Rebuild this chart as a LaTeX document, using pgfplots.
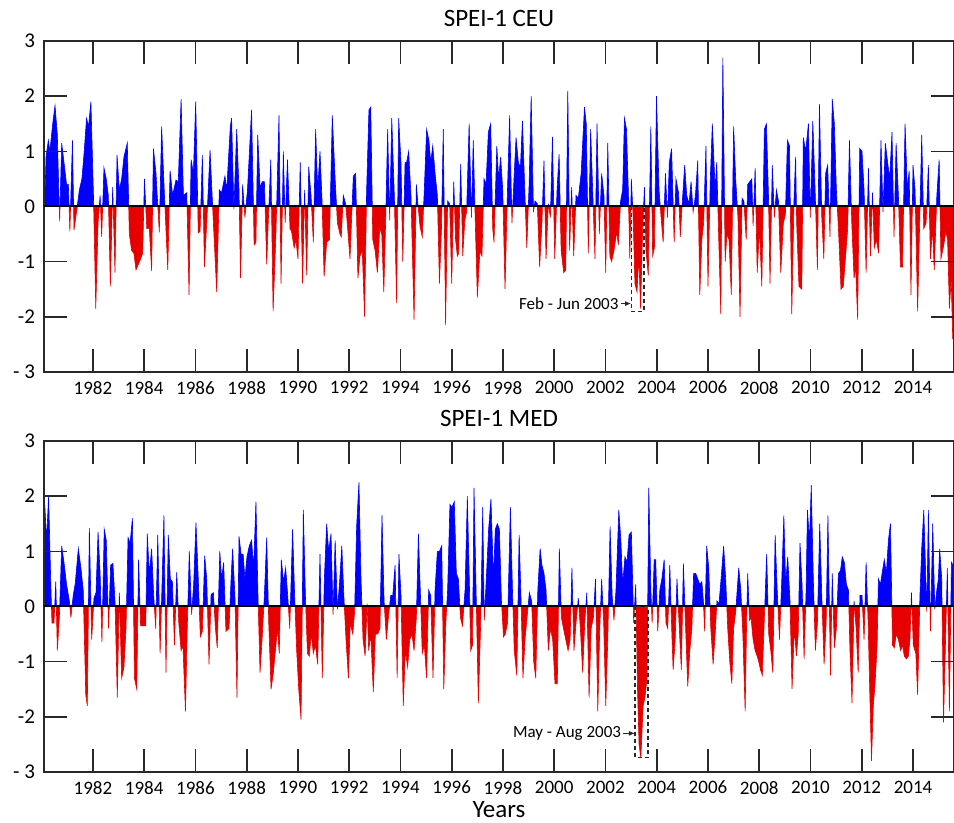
\documentclass[border=0pt]{standalone}
\usepackage{fontspec}
\setmainfont{Carlito}
\usepackage{pgfplots}
\pgfplotsset{compat=1.18}
\usetikzlibrary{arrows.meta}

\definecolor{posblue}{RGB}{0,0,255}
\definecolor{negred}{RGB}{230,0,0}
\definecolor{framegray}{RGB}{40,40,40}

% SPEI-1 CEU, monthly values
\newcommand{\ceucurve}[1]{\addplot[#1] coordinates {
(1980.09,0) (1980.09,-0.45) (1980.17,0.9) (1980.26,1.2) (1980.32,1.0) (1980.43,1.5) (1980.52,1.83) (1980.61,1.3) (1980.66,0.4)
(1980.70,-0.27) (1980.78,1.15) (1980.87,0.8) (1980.97,0.4) (1981.04,0.4) (1981.10,-0.45) (1981.20,1.2) (1981.26,-0.43)
(1981.36,-0.1) (1981.47,0.3) (1981.57,0.5) (1981.66,1.0) (1981.75,1.6) (1981.83,1.45) (1981.92,1.9) (1982.02,0.2)
(1982.11,-1.85) (1982.20,-0.3) (1982.28,0.2) (1982.34,-0.55) (1982.43,0.7) (1982.52,0.5) (1982.60,0.2) (1982.68,-1.45)
(1982.77,0.35) (1982.86,-1.2) (1982.94,0.93) (1983.03,0.3) (1983.12,0.5) (1983.21,0.9) (1983.34,1.15) (1983.42,-0.5)
(1983.51,-0.8) (1983.60,-0.85) (1983.68,-1.15) (1983.77,-1.05) (1983.86,-0.95) (1983.94,-0.85) (1984.01,0.5) (1984.10,-0.4)
(1984.20,-0.4) (1984.29,-1.17) (1984.36,1.05) (1984.46,0.6) (1984.59,-0.47) (1984.68,1.45) (1984.79,0.2) (1984.92,-1.15)
(1985.01,0.65) (1985.11,0.2) (1985.24,0.48) (1985.33,0.45) (1985.44,1.95) (1985.53,0.2) (1985.66,0.25) (1985.75,-1.6)
(1985.83,0.85) (1985.92,0.6) (1986.01,1.9) (1986.11,-0.48) (1986.18,-0.45) (1986.27,0.93) (1986.35,-1.1) (1986.44,-0.3)
(1986.57,1.02) (1986.70,-0.3) (1986.83,-1.55) (1986.93,0.3) (1987.02,0.25) (1987.15,0.55) (1987.22,0.3) (1987.36,1.45)
(1987.41,1.6) (1987.50,-0.05) (1987.61,1.4) (1987.70,0.3) (1987.76,-1.3) (1987.84,0.4) (1987.93,-0.2) (1988.03,0.3)
(1988.19,1.75) (1988.29,-0.7) (1988.36,-0.65) (1988.43,1.3) (1988.52,0.35) (1988.61,0.45) (1988.69,0.45) (1988.78,-1.05)
(1988.84,-0.3) (1988.94,0.85) (1989.03,-1.9) (1989.14,-0.5) (1989.26,1.65) (1989.34,-1.4) (1989.43,1.0) (1989.50,-0.3)
(1989.59,0.85) (1989.69,-0.4) (1989.75,-0.45) (1989.85,-0.75) (1989.92,-0.6) (1990.00,-0.95) (1990.09,0.8) (1990.18,-1.4)
(1990.26,0.3) (1990.34,-1.25) (1990.42,0.72) (1990.51,0.2) (1990.60,-0.65) (1990.69,1.4) (1990.77,0.3) (1990.86,1.0)
(1990.94,0.1) (1991.02,-1.27) (1991.12,-0.65) (1991.23,-0.6) (1991.34,1.65) (1991.45,0.5) (1991.54,-0.3) (1991.64,-0.5)
(1991.69,-0.55) (1991.77,0.2) (1991.86,0.05) (1991.94,-0.4) (1992.03,-0.95) (1992.16,0.55) (1992.25,0.6) (1992.34,-1.3)
(1992.42,-0.9) (1992.51,-0.8) (1992.60,-2.0) (1992.68,0.3) (1992.77,1.75) (1992.84,1.8) (1992.92,-0.6) (1993.01,-0.8)
(1993.10,-1.2) (1993.19,-0.4) (1993.27,-0.5) (1993.35,-1.55) (1993.42,-0.3) (1993.50,1.4) (1993.58,-0.25) (1993.66,1.6)
(1993.76,0.2) (1993.85,-1.75) (1993.93,1.6) (1994.02,0.8) (1994.09,-1.0) (1994.18,0.8) (1994.24,0.8) (1994.32,1.0)
(1994.41,0.2) (1994.53,-2.05) (1994.62,0.4) (1994.67,0.1) (1994.76,-0.35) (1994.85,-0.55) (1994.93,0.3) (1995.02,1.4)
(1995.11,1.2) (1995.18,0.8) (1995.26,1.1) (1995.35,0.6) (1995.44,0.2) (1995.52,-1.4) (1995.60,-0.4) (1995.67,1.4)
(1995.76,-2.15) (1995.84,0.1) (1995.92,0.05) (1996.00,-1.4) (1996.08,0.45) (1996.15,-0.6) (1996.22,-0.9) (1996.27,-0.85)
(1996.35,0.77) (1996.43,-0.9) (1996.51,-0.25) (1996.58,-0.1) (1996.68,1.5) (1996.77,-0.2) (1996.84,1.2) (1996.92,-0.3)
(1997.00,-1.65) (1997.10,-0.8) (1997.18,-0.9) (1997.26,0.5) (1997.34,0.4) (1997.43,1.35) (1997.52,1.5) (1997.60,-0.4)
(1997.65,-0.65) (1997.76,1.1) (1997.83,0.5) (1997.91,0.9) (1997.99,0.3) (1998.08,-1.5) (1998.17,0.2) (1998.26,1.65)
(1998.35,-0.3) (1998.43,0.5) (1998.51,1.25) (1998.60,0.8) (1998.68,0.7) (1998.76,1.55) (1998.85,0.3) (1998.93,-0.75)
(1999.02,0.4) (1999.10,2.0) (1999.19,-0.1) (1999.25,0.1) (1999.34,0.05) (1999.43,-1.1) (1999.52,-0.3) (1999.60,0.83)
(1999.68,-0.95) (1999.77,0.05) (1999.85,-0.2) (1999.93,1.26) (2000.02,-0.95) (2000.11,0.3) (2000.19,0.95) (2000.27,-0.8)
(2000.37,-1.2) (2000.45,-1.15) (2000.53,2.1) (2000.60,-0.8) (2000.68,0.35) (2000.76,-0.9) (2000.85,0.2) (2000.94,0.15)
(2001.05,0.6) (2001.18,1.8) (2001.25,1.5) (2001.33,-0.85) (2001.42,1.4) (2001.50,0.3) (2001.59,-0.95) (2001.67,1.5)
(2001.76,-0.5) (2001.85,0.6) (2001.94,0.2) (2002.01,-1.2) (2002.09,1.15) (2002.17,-0.9) (2002.24,-1.0) (2002.33,-0.8)
(2002.44,-0.45) (2002.50,-0.7) (2002.59,0.1) (2002.67,0.3) (2002.74,1.6) (2002.82,1.4) (2002.89,0.3) (2002.95,-0.95)
(2003.01,0.5) (2003.08,-0.2) (2003.15,-1.4) (2003.23,-1.55) (2003.30,-0.9) (2003.37,-1.85) (2003.45,-0.4) (2003.52,0.35)
(2003.58,-0.8) (2003.67,-1.25) (2003.77,1.45) (2003.84,-0.9) (2003.91,-0.75) (2003.99,2.0) (2004.09,0.3) (2004.17,-0.2)
(2004.25,-0.65) (2004.34,0.6) (2004.42,-0.2) (2004.49,0.8) (2004.58,1.05) (2004.68,-0.65) (2004.75,0.5) (2004.85,0.25)
(2004.92,-0.55) (2005.00,0.1) (2005.09,0.75) (2005.17,0.2) (2005.26,0.05) (2005.34,0.45) (2005.42,-0.1) (2005.51,0.2)
(2005.60,0.83) (2005.68,-1.6) (2005.76,-0.6) (2005.83,-0.3) (2005.92,1.1) (2006.00,-1.45) (2006.09,0.5) (2006.17,1.5)
(2006.28,0.3) (2006.34,0.8) (2006.42,-0.6) (2006.50,-1.95) (2006.58,2.7) (2006.67,-1.0) (2006.74,-0.5) (2006.82,-0.6)
(2006.91,-1.6) (2007.00,1.45) (2007.08,0.5) (2007.17,-0.2) (2007.25,-2.0) (2007.33,0.15) (2007.40,0.1) (2007.49,-0.6)
(2007.55,0.4) (2007.63,0.45) (2007.71,0.5) (2007.76,-0.35) (2007.84,0.7) (2007.92,-1.2) (2008.01,-0.4) (2008.10,-1.45)
(2008.20,1.4) (2008.28,1.5) (2008.36,0.2) (2008.42,-1.4) (2008.51,0.75) (2008.59,-0.2) (2008.67,0.3) (2008.75,0.1)
(2008.84,-1.2) (2008.94,-0.3) (2009.02,-0.15) (2009.10,1.2) (2009.18,1.1) (2009.27,-1.95) (2009.36,0.2) (2009.42,0.9)
(2009.46,-0.3) (2009.55,-1.45) (2009.66,-1.5) (2009.72,1.25) (2009.81,1.0) (2009.92,1.5) (2009.99,-0.2) (2010.09,1.55)
(2010.18,0.3) (2010.27,-1.15) (2010.35,1.85) (2010.44,-0.2) (2010.52,-0.95) (2010.59,0.6) (2010.67,0.75) (2010.76,-0.55)
(2010.85,1.95) (2010.93,1.5) (2011.01,0.3) (2011.09,-0.4) (2011.19,-1.5) (2011.28,-1.45) (2011.37,-0.9) (2011.45,-0.4)
(2011.52,1.2) (2011.61,-0.3) (2011.70,-1.3) (2011.76,-1.1) (2011.84,-2.05) (2011.92,1.05) (2012.01,1.0) (2012.09,0.3)
(2012.17,-1.2) (2012.26,0.7) (2012.34,-0.9) (2012.42,0.25) (2012.49,-0.75) (2012.57,-0.6) (2012.66,-0.85) (2012.75,1.2)
(2012.83,-0.1) (2012.92,1.15) (2013.01,0.8) (2013.09,0.5) (2013.18,1.35) (2013.26,-0.55) (2013.34,1.15) (2013.43,0.2)
(2013.51,-1.1) (2013.59,-1.1) (2013.69,1.5) (2013.78,0.3) (2013.85,0.65) (2013.92,-1.6) (2014.00,0.75) (2014.08,0.3)
(2014.18,-1.9) (2014.26,-0.3) (2014.34,1.3) (2014.42,-0.4) (2014.51,-0.3) (2014.60,0.75) (2014.68,-0.95) (2014.76,-0.4)
(2014.83,-1.15) (2014.93,0.2) (2015.02,0.85) (2015.09,-0.95) (2015.20,-0.7) (2015.28,-0.45) (2015.35,-0.6) (2015.42,-1.85)
(2015.49,-1.3) (2015.55,-2.4) (2015.60,-2.4) (2015.60,0)
} -- cycle;}

% SPEI-1 MED, monthly values
\newcommand{\medcurve}[1]{\addplot[#1] coordinates {
(1980.09,0) (1980.09,1.5) (1980.12,1.85) (1980.19,1.2) (1980.27,2.0) (1980.35,0.5) (1980.40,-0.3) (1980.48,-0.3) (1980.55,0.45)
(1980.61,-0.8) (1980.69,-0.2) (1980.78,1.1) (1980.87,0.8) (1980.97,0.4) (1981.08,0.1) (1981.14,-0.2) (1981.23,0.2)
(1981.31,0.42) (1981.43,1.05) (1981.53,0.7) (1981.62,0.3) (1981.72,-1.6) (1981.78,-1.8) (1981.86,1.42) (1981.95,-0.6)
(1982.04,0.15) (1982.12,0.25) (1982.20,1.35) (1982.28,0.6) (1982.35,-0.65) (1982.44,1.4) (1982.52,1.2) (1982.61,-0.4)
(1982.69,0.75) (1982.78,0.78) (1982.86,0.1) (1982.95,-1.65) (1983.03,0.25) (1983.12,-1.3) (1983.21,-1.1) (1983.29,-0.4)
(1983.37,1.25) (1983.45,1.15) (1983.54,1.6) (1983.62,-1.3) (1983.71,-1.5) (1983.78,0.85) (1983.86,-0.35) (1983.97,-0.35)
(1984.06,-0.35) (1984.12,1.32) (1984.20,0.6) (1984.29,1.05) (1984.37,0.2) (1984.45,-0.4) (1984.53,1.3) (1984.62,-0.85)
(1984.69,0.3) (1984.77,1.65) (1984.85,-1.2) (1984.94,1.3) (1985.02,0.5) (1985.10,0.45) (1985.18,-0.7) (1985.27,0.62)
(1985.35,-0.3) (1985.44,-0.8) (1985.51,-0.7) (1985.61,-1.9) (1985.68,-0.4) (1985.76,1.0) (1985.85,-0.15) (1985.93,0.4)
(1986.02,1.52) (1986.11,0.5) (1986.19,-0.55) (1986.27,-0.45) (1986.36,0.92) (1986.44,0.5) (1986.53,-1.05) (1986.61,0.22)
(1986.70,0.25) (1986.78,-0.4) (1986.85,-0.75) (1986.95,1.0) (1987.02,0.5) (1987.10,0.8) (1987.19,-0.45) (1987.31,-0.4)
(1987.39,0.5) (1987.45,1.05) (1987.54,0.2) (1987.62,-1.65) (1987.70,1.27) (1987.78,0.95) (1987.86,0.95) (1987.93,0.5)
(1988.01,0.9) (1988.10,1.1) (1988.19,1.2) (1988.27,0.7) (1988.36,1.9) (1988.44,0.2) (1988.52,-1.2) (1988.60,-0.6)
(1988.69,0.2) (1988.78,1.25) (1988.86,-0.3) (1988.95,-1.5) (1989.04,-1.2) (1989.12,-0.8) (1989.20,-0.4) (1989.27,-0.85)
(1989.35,0.85) (1989.44,0.45) (1989.52,0.7) (1989.60,0.2) (1989.68,-0.4) (1989.79,1.4) (1989.87,0.2) (1989.95,-0.8)
(1990.03,-1.5) (1990.12,-2.05) (1990.21,1.75) (1990.29,0.2) (1990.37,-0.85) (1990.44,-0.9) (1990.52,-0.5) (1990.60,-0.85)
(1990.68,-0.7) (1990.77,-1.05) (1990.86,0.95) (1990.95,-1.3) (1991.03,0.5) (1991.12,1.5) (1991.20,1.0) (1991.29,1.32)
(1991.37,-0.15) (1991.45,1.2) (1991.54,-0.05) (1991.62,0.4) (1991.71,1.1) (1991.80,0.1) (1991.88,-0.65) (1991.97,-1.3)
(1992.04,-0.3) (1992.14,-0.5) (1992.21,-0.1) (1992.29,1.45) (1992.38,2.25) (1992.46,0.5) (1992.54,-0.6) (1992.62,-0.9)
(1992.70,0.05) (1992.76,-0.8) (1992.84,-0.5) (1992.94,-1.55) (1993.02,-0.5) (1993.11,-0.5) (1993.20,-0.4) (1993.28,1.65)
(1993.36,0.1) (1993.45,-0.6) (1993.53,-0.2) (1993.62,0.2) (1993.70,0.2) (1993.79,0.75) (1993.87,-1.3) (1993.94,0.95)
(1994.02,0.2) (1994.11,-1.8) (1994.19,-0.8) (1994.28,-1.1) (1994.36,-0.6) (1994.45,-0.5) (1994.53,-0.8) (1994.62,-0.2)
(1994.70,1.32) (1994.78,0.2) (1994.85,-0.85) (1994.93,-0.7) (1995.02,-1.3) (1995.10,0.3) (1995.18,0.2) (1995.27,-1.3)
(1995.35,0.3) (1995.44,1.0) (1995.52,1.0) (1995.61,1.1) (1995.69,-1.5) (1995.77,-0.3) (1995.84,0.3) (1995.93,1.85)
(1996.01,1.8) (1996.10,1.9) (1996.18,0.6) (1996.26,0.5) (1996.34,-0.2) (1996.42,-0.35) (1996.52,0.3) (1996.61,2.0)
(1996.69,0.4) (1996.74,-0.8) (1996.81,-0.7) (1996.87,2.15) (1996.95,0.3) (1997.04,-1.75) (1997.13,-0.3) (1997.21,1.8)
(1997.27,-0.25) (1997.35,0.5) (1997.44,1.4) (1997.53,1.95) (1997.63,0.5) (1997.70,1.4) (1997.78,1.5) (1997.86,1.4)
(1997.94,0.1) (1998.02,-0.55) (1998.09,-0.5) (1998.18,-0.3) (1998.29,1.8) (1998.37,0.3) (1998.44,-0.8) (1998.54,-1.25)
(1998.63,1.3) (1998.70,0.2) (1998.78,-1.3) (1998.86,-0.6) (1998.94,-0.2) (1999.03,0.25) (1999.12,0.1) (1999.20,-1.0)
(1999.28,-1.3) (1999.36,0.3) (1999.45,1.05) (1999.52,0.75) (1999.60,0.6) (1999.68,0.3) (1999.77,-0.8) (1999.85,-0.4)
(1999.94,-0.6) (2000.03,-1.4) (2000.12,-1.4) (2000.20,1.05) (2000.28,-0.2) (2000.36,-0.4) (2000.45,-0.6) (2000.54,-0.8)
(2000.62,-0.6) (2000.69,0.7) (2000.77,-0.8) (2000.85,-0.3) (2000.94,0.15) (2001.02,-0.4) (2001.11,-1.2) (2001.19,-0.3)
(2001.27,0.25) (2001.36,-1.65) (2001.44,-0.4) (2001.53,-0.2) (2001.61,0.5) (2001.70,-1.9) (2001.77,-0.5) (2001.85,0.5)
(2001.93,-0.3) (2002.01,-1.8) (2002.09,-0.6) (2002.18,1.45) (2002.26,0.2) (2002.33,-0.25) (2002.41,0.3) (2002.52,1.75)
(2002.60,1.2) (2002.67,0.4) (2002.76,0.9) (2002.84,0.8) (2002.92,1.3) (2003.01,1.35) (2003.10,-0.3) (2003.18,0.4)
(2003.25,-1.5) (2003.31,-2.5) (2003.38,-2.75) (2003.47,-1.8) (2003.54,-1.65) (2003.62,-1.3) (2003.69,2.15) (2003.77,0.3)
(2003.82,-0.3) (2003.90,0.85) (2003.96,0.85) (2004.04,-0.45) (2004.12,0.3) (2004.20,0.5) (2004.29,0.85) (2004.36,-0.3)
(2004.43,-0.4) (2004.51,0.75) (2004.59,-0.5) (2004.64,-1.15) (2004.72,-0.6) (2004.79,0.5) (2004.87,-0.3) (2004.96,-1.15)
(2005.04,0.78) (2005.12,-0.3) (2005.21,-1.45) (2005.29,-0.8) (2005.37,-0.4) (2005.44,0.6) (2005.52,0.6) (2005.60,0.5)
(2005.68,0.4) (2005.76,0.45) (2005.82,0.1) (2005.87,-0.45) (2005.95,1.1) (2006.03,0.7) (2006.11,-0.4) (2006.20,-1.05)
(2006.28,-0.5) (2006.35,0.1) (2006.43,0.05) (2006.51,0.5) (2006.61,1.1) (2006.69,0.5) (2006.77,-0.4) (2006.85,-1.0)
(2006.93,-1.4) (2007.00,-0.4) (2007.08,-0.1) (2007.20,0.7) (2007.28,0.3) (2007.36,-0.5) (2007.45,-1.9) (2007.51,-0.2)
(2007.55,0.6) (2007.62,-0.25) (2007.68,-0.2) (2007.76,-0.6) (2007.84,-0.8) (2007.92,-0.9) (2007.98,-1.0) (2008.05,-1.15)
(2008.12,-1.25) (2008.20,-0.2) (2008.29,0.95) (2008.37,-0.5) (2008.45,-0.8) (2008.53,-1.2) (2008.62,1.3) (2008.70,0.3)
(2008.79,-0.6) (2008.88,0.5) (2008.96,1.65) (2009.03,0.4) (2009.11,0.9) (2009.20,0.1) (2009.28,-1.5) (2009.37,-0.4)
(2009.45,-0.9) (2009.52,-0.5) (2009.59,1.15) (2009.67,0.4) (2009.75,-0.95) (2009.83,0.3) (2009.88,1.75) (2009.96,1.2)
(2010.03,2.2) (2010.11,0.5) (2010.19,-0.8) (2010.27,-0.3) (2010.36,1.5) (2010.44,0.2) (2010.53,-1.05) (2010.61,-0.3)
(2010.68,1.65) (2010.78,-1.25) (2010.85,0.6) (2010.93,-0.75) (2011.01,-0.4) (2011.09,0.6) (2011.17,0.65) (2011.24,0.9)
(2011.32,0.8) (2011.40,0.4) (2011.48,0.3) (2011.54,-0.8) (2011.62,-1.75) (2011.70,0.1) (2011.78,-0.4) (2011.86,-1.2)
(2011.93,0.2) (2012.01,0.2) (2012.09,-0.6) (2012.17,0.8) (2012.25,-0.3) (2012.31,-1.5) (2012.38,-2.8) (2012.45,-1.8)
(2012.52,-1.4) (2012.60,-0.7) (2012.65,0.5) (2012.73,0.4) (2012.81,0.65) (2012.88,0.85) (2012.96,0.6) (2013.04,1.2)
(2013.12,1.5) (2013.20,-0.7) (2013.27,-0.75) (2013.35,-0.5) (2013.43,-0.6) (2013.52,-0.8) (2013.59,-0.7) (2013.66,-0.9)
(2013.74,-0.95) (2013.82,-0.9) (2013.88,-0.6) (2013.94,0.25) (2014.01,-0.7) (2014.11,-0.85) (2014.18,-1.6) (2014.27,0.2)
(2014.34,1.05) (2014.42,1.75) (2014.50,0.5) (2014.54,-0.1) (2014.60,1.75) (2014.68,-0.45) (2014.77,1.5) (2014.85,-0.05)
(2014.93,0.3) (2014.99,0.5) (2015.04,1.05) (2015.12,0.5) (2015.19,-2.1) (2015.26,-0.8) (2015.34,0.7) (2015.42,-1.9)
(2015.50,0.8) (2015.56,0.75) (2015.60,0.75) (2015.60,0)
} -- cycle;}

\pgfplotsset{
  half/.style={
    scale only axis, hide axis, width=455pt, height=82.75pt,
    xmin=1980.09, xmax=2015.6, clip=true,
  },
  spei/.style={
    scale only axis, width=455pt, height=165.5pt,
    xmin=1980.09, xmax=2015.6, ymin=-3, ymax=3,
    axis line style={framegray, line width=0.8pt},
    tick style={framegray, line width=0.8pt},
    tick align=inside, tick pos=both,
    major tick length=11.5pt,
    xtick={1982,1984,1986,1988,1990,1992,1994,1996,1998,2000,2002,2004,2006,2008,2010,2012,2014},
    xticklabels={1982,1984,1986,1988,1990,1992,1994,1996,1998,2000,2002,2004,2006,2008,2010,2012,2014},
    ytick={-3,-2,-1,0,1,2,3},
    yticklabels={- 3,-2,-1,0,1,2,3},
    xticklabel pos=lower, yticklabel pos=left,
    xticklabel style={font=\fontsize{9.5}{11}\selectfont, yshift=-1pt},
    yticklabel style={font=\fontsize{10.5}{12}\selectfont, xshift=-1pt},
    title style={font=\fontsize{12.5}{14}\selectfont, at={(axis description cs:0.5,1)}, anchor=center, yshift=5.5pt},
  },
  pos/.style={posblue, fill=posblue, line width=0.3pt},
  neg/.style={negred, fill=negred, line width=0.3pt},
}

\begin{document}
\begin{tikzpicture}
\path[use as bounding box] (0,0) rectangle (477pt,411.5pt);

% ---------------- CEU ----------------
\begin{axis}[half, at={(22pt,308.25pt)}, anchor=south west, ymin=0, ymax=3]
\ceucurve{pos}
\end{axis}
\begin{axis}[half, at={(22pt,225.5pt)}, anchor=south west, ymin=-3, ymax=0]
\ceucurve{neg}
\end{axis}
\begin{axis}[spei, at={(22pt,225.5pt)}, anchor=south west, title={SPEI-1 CEU}]
\addplot[black, line width=1pt] coordinates {(1980.09,0) (2015.6,0)};
\draw[framegray, line width=0.6pt, dash pattern=on 2pt off 1.5pt] (axis cs:2003.0,0) rectangle (axis cs:2003.5,-1.9);
\draw[framegray, line width=0.5pt, -{Latex[length=3pt,width=2.5pt]}] (axis cs:2002.6,-1.76) -- (axis cs:2003.0,-1.76);
\node[anchor=east, inner sep=1pt, font=\fontsize{8.5}{10}\selectfont] at (axis cs:2002.6,-1.76) {Feb - Jun 2003};
\end{axis}

% ---------------- MED ----------------
\begin{axis}[half, at={(22pt,108.25pt)}, anchor=south west, ymin=0, ymax=3]
\medcurve{pos}
\end{axis}
\begin{axis}[half, at={(22pt,25.5pt)}, anchor=south west, ymin=-3, ymax=0]
\medcurve{neg}
\end{axis}
\begin{axis}[spei, at={(22pt,25.5pt)}, anchor=south west, title={SPEI-1 MED},
  xlabel={Years},
  xlabel style={font=\fontsize{12.5}{14}\selectfont, at={(axis description cs:0.5,0)}, anchor=center, yshift=-19pt}]
\addplot[black, line width=1pt] coordinates {(1980.09,0) (2015.6,0)};
\draw[framegray, line width=0.6pt, dash pattern=on 2pt off 1.5pt] (axis cs:2003.15,0) rectangle (axis cs:2003.66,-2.74);
\draw[framegray, line width=0.5pt, -{Latex[length=3pt,width=2.5pt]}] (axis cs:2002.7,-2.3) -- (axis cs:2003.15,-2.3);
\node[anchor=east, inner sep=1pt, font=\fontsize{8.5}{10}\selectfont] at (axis cs:2002.7,-2.3) {May - Aug 2003};
\end{axis}
\end{tikzpicture}
\end{document}
